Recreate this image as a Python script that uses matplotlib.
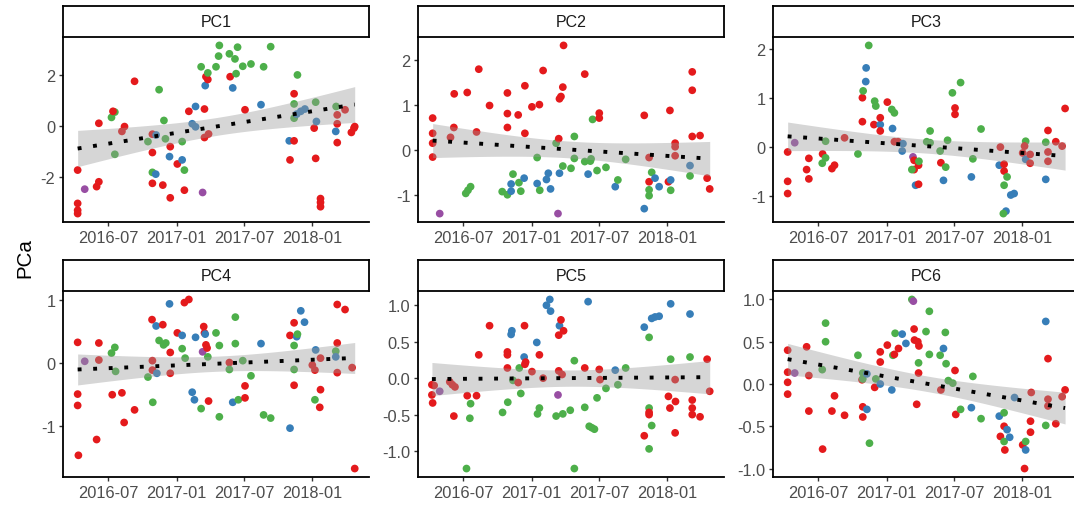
import numpy as np
import pandas as pd
import matplotlib.pyplot as plt
import matplotlib.dates as mdates

plt.rcParams['font.family'] = ['Liberation Sans', 'DejaVu Sans']
plt.rcParams['axes.unicode_minus'] = False

# Set1 colours for the four sample groups
group_colors = {'r': '#E41A1C', 'b': '#377EB8', 'g': '#4DAF4A', 'p': '#984EA3'}

# (date, score, group) per principal component
pc1 = [
    ('2016-04-10', -1.74, 'r'), ('2016-04-10', -3.05, 'r'), ('2016-04-10', -3.32, 'r'), ('2016-04-10', -3.45, 'r'),
    ('2016-04-29', -2.49, 'p'), ('2016-05-31', -2.39, 'r'), ('2016-06-06', -2.20, 'r'), ('2016-06-06', 0.10, 'r'),
    ('2016-07-10', 0.33, 'g'), ('2016-07-19', 0.54, 'g'), ('2016-07-14', 0.57, 'r'), ('2016-07-19', -1.12, 'g'),
    ('2016-08-07', -0.22, 'r'), ('2016-08-14', -0.03, 'r'), ('2016-09-10', 1.75, 'r'), ('2016-10-16', -0.62, 'g'),
    ('2016-10-28', -0.33, 'r'), ('2016-10-28', -1.05, 'r'), ('2016-10-28', -1.83, 'g'), ('2016-10-28', -2.26, 'r'),
    ('2016-11-06', -1.90, 'b'), ('2016-11-07', -0.36, 'b'), ('2016-11-15', 1.42, 'g'), ('2016-11-25', -2.33, 'r'),
    ('2016-11-28', 0.21, 'g'), ('2016-12-02', -0.51, 'g'), ('2016-12-13', -1.21, 'b'), ('2016-12-15', -2.83, 'r'),
    ('2016-12-15', -0.82, 'r'), ('2017-01-03', -1.50, 'r'), ('2017-01-16', -1.34, 'b'), ('2017-01-16', -0.62, 'g'),
    ('2017-01-22', -1.74, 'g'), ('2017-01-22', -2.53, 'r'), ('2017-02-03', 0.57, 'r'), ('2017-02-12', 0.08, 'b'),
    ('2017-02-21', 0.76, 'b'), ('2017-02-21', -0.04, 'b'), ('2017-03-08', 2.32, 'g'), ('2017-03-12', -2.62, 'p'),
    ('2017-03-17', 0.66, 'r'), ('2017-03-17', -0.46, 'r'), ('2017-03-19', 1.58, 'b'), ('2017-03-21', 1.93, 'r'),
    ('2017-03-26', 1.82, 'r'), ('2017-03-26', 2.08, 'g'), ('2017-03-28', -0.32, 'r'), ('2017-04-17', 2.32, 'g'),
    ('2017-04-24', 2.74, 'g'), ('2017-04-26', 3.16, 'g'), ('2017-05-23', 2.83, 'g'), ('2017-05-25', 1.93, 'r'),
    ('2017-06-01', 1.49, 'b'), ('2017-06-07', 2.63, 'g'), ('2017-06-10', 2.05, 'g'), ('2017-06-14', 3.09, 'g'),
    ('2017-06-28', 2.34, 'g'), ('2017-07-04', 0.63, 'r'), ('2017-07-20', 2.43, 'g'), ('2017-08-16', 0.83, 'b'),
    ('2017-08-23', 2.32, 'g'), ('2017-09-11', 3.11, 'g'), ('2017-10-31', -0.59, 'b'), ('2017-11-02', -1.34, 'r'),
    ('2017-11-13', -0.59, 'r'), ('2017-11-13', 1.26, 'r'), ('2017-11-13', 0.86, 'g'), ('2017-11-13', 0.30, 'g'),
    ('2017-11-22', 2.00, 'g'), ('2017-11-20', 0.46, 'b'), ('2017-12-01', 0.57, 'b'), ('2017-12-12', 0.66, 'b'),
    ('2018-01-06', -0.09, 'r'), ('2018-01-10', -1.28, 'r'), ('2018-01-10', 0.93, 'g'), ('2018-01-12', 0.17, 'b'),
    ('2018-01-23', -2.86, 'r'), ('2018-01-23', -3.01, 'r'), ('2018-01-23', -3.18, 'r'), ('2018-03-05', -0.22, 'b'),
    ('2018-03-06', 0.76, 'g'), ('2018-03-09', 0.43, 'r'), ('2018-03-09', 0.08, 'r'), ('2018-03-09', -0.66, 'r'),
    ('2018-03-30', 0.63, 'r'), ('2018-04-16', -0.26, 'r'), ('2018-04-23', -0.09, 'r'), ('2018-04-25', -0.03, 'r'),
]

pc2 = [
    ('2016-04-10', 0.71, 'r'), ('2016-04-10', 0.37, 'r'), ('2016-04-10', 0.15, 'r'), ('2016-04-10', -0.16, 'r'),
    ('2016-04-29', -1.42, 'p'), ('2016-05-28', 0.28, 'r'), ('2016-06-06', 0.50, 'r'), ('2016-06-07', 1.25, 'r'),
    ('2016-07-12', 1.28, 'r'), ('2016-07-08', -0.97, 'g'), ('2016-07-14', -0.90, 'g'), ('2016-07-21', -0.82, 'g'),
    ('2016-08-06', 0.40, 'r'), ('2016-08-12', 1.80, 'r'), ('2016-09-10', 0.99, 'r'), ('2016-10-14', -0.93, 'g'),
    ('2016-10-28', 1.27, 'r'), ('2016-10-28', 0.81, 'r'), ('2016-10-28', 0.50, 'r'), ('2016-10-28', -1.00, 'g'),
    ('2016-11-07', -0.92, 'b'), ('2016-11-07', -0.76, 'b'), ('2016-11-12', -0.54, 'g'), ('2016-11-26', 0.78, 'r'),
    ('2016-11-28', -0.73, 'g'), ('2016-12-03', -0.92, 'g'), ('2016-12-12', -0.63, 'b'), ('2016-12-14', 1.43, 'r'),
    ('2016-12-14', 0.37, 'r'), ('2017-01-02', 0.96, 'r'), ('2017-01-16', -0.75, 'b'), ('2017-01-16', -0.17, 'g'),
    ('2017-01-22', 1.01, 'r'), ('2017-01-23', -0.90, 'g'), ('2017-02-01', 1.77, 'r'), ('2017-02-10', -0.66, 'b'),
    ('2017-02-15', -0.52, 'b'), ('2017-02-21', -0.87, 'b'), ('2017-03-08', 0.15, 'g'), ('2017-03-13', -1.42, 'p'),
    ('2017-03-15', 0.25, 'r'), ('2017-03-17', -0.52, 'b'), ('2017-03-17', 1.14, 'r'), ('2017-03-21', 1.19, 'r'),
    ('2017-03-26', 1.40, 'r'), ('2017-03-28', 2.33, 'r'), ('2017-03-26', -0.36, 'g'), ('2017-04-17', -0.41, 'g'),
    ('2017-04-26', 0.30, 'g'), ('2017-04-26', -0.19, 'g'), ('2017-05-24', 1.69, 'r'), ('2017-05-24', -0.26, 'g'),
    ('2017-06-02', -0.54, 'b'), ('2017-06-08', -0.25, 'g'), ('2017-06-10', -0.20, 'g'), ('2017-06-14', 0.68, 'g'),
    ('2017-06-26', -0.46, 'g'), ('2017-07-02', 0.82, 'r'), ('2017-07-02', 0.71, 'r'), ('2017-07-20', -0.39, 'g'),
    ('2017-08-14', -0.82, 'b'), ('2017-08-21', -0.67, 'g'), ('2017-09-11', -0.21, 'g'), ('2017-10-31', 0.77, 'r'),
    ('2017-10-31', -1.31, 'b'), ('2017-11-13', -0.17, 'r'), ('2017-11-13', -0.71, 'r'), ('2017-11-13', -0.89, 'g'),
    ('2017-11-13', -1.02, 'g'), ('2017-11-20', -0.50, 'g'), ('2017-11-29', -0.63, 'b'), ('2017-12-10', -0.82, 'b'),
    ('2018-01-04', -0.71, 'r'), ('2018-01-08', 0.88, 'r'), ('2018-01-10', -0.67, 'b'), ('2018-01-10', -0.90, 'g'),
    ('2018-01-22', 0.15, 'r'), ('2018-01-22', 0.07, 'r'), ('2018-01-22', -0.13, 'r'), ('2018-03-03', -0.35, 'b'),
    ('2018-03-03', -0.58, 'g'), ('2018-03-09', 1.74, 'r'), ('2018-03-09', 1.33, 'r'), ('2018-03-09', 0.30, 'r'),
    ('2018-03-30', 0.32, 'r'), ('2018-04-18', -0.63, 'r'), ('2018-04-25', -0.87, 'r'),
]

pc3 = [
    ('2016-04-10', -0.10, 'r'), ('2016-04-10', -0.70, 'r'), ('2016-04-10', -0.95, 'r'), ('2016-04-29', 0.09, 'p'),
    ('2016-05-31', -0.46, 'r'), ('2016-06-06', -0.23, 'r'), ('2016-06-06', -0.65, 'r'), ('2016-07-12', -0.33, 'g'),
    ('2016-07-13', -0.14, 'r'), ('2016-07-21', 0.12, 'g'), ('2016-07-21', -0.22, 'g'), ('2016-08-07', -0.44, 'r'),
    ('2016-08-14', -0.37, 'r'), ('2016-09-10', 0.19, 'r'), ('2016-10-16', -0.14, 'g'), ('2016-10-28', 1.01, 'r'),
    ('2016-10-28', 0.52, 'r'), ('2016-10-30', 1.15, 'g'), ('2016-11-07', 1.62, 'b'), ('2016-11-06', 1.34, 'b'),
    ('2016-11-14', 2.08, 'g'), ('2016-11-28', 0.46, 'r'), ('2016-11-30', 0.94, 'g'), ('2016-12-03', 0.84, 'g'),
    ('2016-12-15', 0.46, 'b'), ('2016-12-15', 0.60, 'r'), ('2016-12-15', 0.33, 'r'), ('2017-01-03', 0.92, 'r'),
    ('2017-01-15', 0.77, 'g'), ('2017-01-22', 0.70, 'g'), ('2017-01-17', 0.38, 'b'), ('2017-01-22', 0.11, 'r'),
    ('2017-02-01', 0.11, 'r'), ('2017-02-12', -0.08, 'b'), ('2017-02-14', 0.07, 'b'), ('2017-03-13', -0.20, 'p'),
    ('2017-03-16', -0.27, 'r'), ('2017-03-16', -0.46, 'r'), ('2017-03-10', -0.46, 'g'), ('2017-03-20', -0.78, 'b'),
    ('2017-03-28', -0.37, 'r'), ('2017-03-28', -0.76, 'r'), ('2017-03-29', -0.29, 'g'), ('2017-04-19', 0.11, 'g'),
    ('2017-04-28', 0.33, 'g'), ('2017-04-28', 0.09, 'g'), ('2017-05-25', -0.08, 'g'), ('2017-05-27', -0.32, 'r'),
    ('2017-06-03', -0.68, 'b'), ('2017-06-09', -0.41, 'g'), ('2017-06-14', 0.14, 'g'), ('2017-06-27', 1.11, 'g'),
    ('2017-07-04', 0.80, 'r'), ('2017-07-04', 0.67, 'r'), ('2017-07-19', 1.32, 'g'), ('2017-08-17', -0.61, 'b'),
    ('2017-08-21', -0.24, 'g'), ('2017-09-12', 0.37, 'g'), ('2017-10-31', -0.37, 'b'), ('2017-11-03', 0.00, 'r'),
    ('2017-11-13', -0.35, 'r'), ('2017-11-13', -0.49, 'r'), ('2017-11-13', -0.78, 'g'), ('2017-11-21', -0.61, 'g'),
    ('2017-11-18', -1.31, 'b'), ('2017-11-11', -1.36, 'g'), ('2017-12-01', -0.98, 'b'), ('2017-12-10', -0.95, 'b'),
    ('2018-01-02', -0.12, 'r'), ('2018-01-10', 0.12, 'g'), ('2018-01-07', 0.02, 'r'), ('2018-01-10', -0.25, 'b'),
    ('2018-01-22', -0.15, 'r'), ('2018-01-22', -0.33, 'r'), ('2018-03-05', -0.66, 'b'), ('2018-03-05', 0.10, 'g'),
    ('2018-03-11', 0.34, 'r'), ('2018-03-11', -0.10, 'r'), ('2018-03-11', -0.29, 'r'), ('2018-04-01', 0.11, 'r'),
    ('2018-04-18', 0.02, 'r'), ('2018-04-26', 0.79, 'r'),
]

pc4 = [
    ('2016-04-10', 0.33, 'r'), ('2016-04-10', -0.49, 'r'), ('2016-04-10', -0.67, 'r'), ('2016-04-12', -1.46, 'r'),
    ('2016-04-29', 0.03, 'p'), ('2016-05-31', -1.21, 'r'), ('2016-06-06', 0.32, 'r'), ('2016-06-06', 0.05, 'r'),
    ('2016-07-10', 0.16, 'g'), ('2016-07-19', 0.25, 'g'), ('2016-07-21', -0.13, 'g'), ('2016-07-12', -0.50, 'r'),
    ('2016-08-07', -0.47, 'r'), ('2016-08-13', -0.94, 'r'), ('2016-09-10', -0.74, 'r'), ('2016-10-16', -0.22, 'g'),
    ('2016-10-27', 0.69, 'r'), ('2016-10-28', 0.04, 'r'), ('2016-10-28', -0.11, 'r'), ('2016-10-29', -0.62, 'g'),
    ('2016-11-07', 0.59, 'b'), ('2016-11-09', -0.16, 'b'), ('2016-11-15', 0.36, 'g'), ('2016-11-25', 0.61, 'r'),
    ('2016-11-27', 0.29, 'g'), ('2016-12-03', 0.32, 'g'), ('2016-12-13', 0.94, 'b'), ('2016-12-15', 0.17, 'r'),
    ('2016-12-15', -0.16, 'r'), ('2017-01-03', 0.48, 'r'), ('2017-01-16', 0.44, 'b'), ('2017-01-16', 0.23, 'g'),
    ('2017-01-22', 0.96, 'r'), ('2017-02-03', 1.01, 'r'), ('2017-01-24', 0.08, 'g'), ('2017-02-12', -0.46, 'b'),
    ('2017-02-18', -0.58, 'b'), ('2017-02-21', 0.41, 'b'), ('2017-03-08', -0.72, 'g'), ('2017-03-12', 0.18, 'p'),
    ('2017-03-15', 0.58, 'r'), ('2017-03-17', 0.48, 'r'), ('2017-03-19', 0.46, 'b'), ('2017-03-21', 0.29, 'r'),
    ('2017-03-24', 0.24, 'r'), ('2017-03-26', 0.10, 'g'), ('2017-03-28', -0.60, 'r'), ('2017-04-17', 0.48, 'g'),
    ('2017-04-26', 0.28, 'g'), ('2017-04-26', -0.85, 'g'), ('2017-05-23', 0.01, 'r'), ('2017-05-23', -0.10, 'g'),
    ('2017-06-01', -0.62, 'b'), ('2017-06-08', 0.31, 'g'), ('2017-06-08', 0.73, 'g'), ('2017-06-16', -0.58, 'g'),
    ('2017-06-28', 0.04, 'g'), ('2017-07-04', -0.36, 'r'), ('2017-07-04', -0.55, 'r'), ('2017-07-20', -0.20, 'g'),
    ('2017-08-16', 0.31, 'b'), ('2017-08-23', -0.82, 'g'), ('2017-09-11', -0.87, 'g'), ('2017-11-02', -1.03, 'b'),
    ('2017-11-02', 0.44, 'r'), ('2017-11-13', 0.64, 'r'), ('2017-11-13', -0.10, 'g'), ('2017-11-13', -0.35, 'r'),
    ('2017-11-13', 0.28, 'g'), ('2017-11-20', 0.42, 'b'), ('2017-11-22', 0.46, 'g'), ('2017-12-01', 0.83, 'b'),
    ('2017-12-11', 0.65, 'b'), ('2018-01-01', -0.03, 'r'), ('2018-01-08', -0.11, 'r'), ('2018-01-08', -0.58, 'g'),
    ('2018-01-10', 0.21, 'b'), ('2018-01-23', 0.08, 'r'), ('2018-01-23', -0.42, 'r'), ('2018-01-21', -0.70, 'r'),
    ('2018-03-05', 0.19, 'g'), ('2018-03-05', 0.10, 'b'), ('2018-03-09', 0.93, 'r'), ('2018-03-09', 0.32, 'r'),
    ('2018-03-09', -0.15, 'r'), ('2018-03-30', 0.85, 'r'), ('2018-04-18', -0.07, 'r'), ('2018-04-25', -1.67, 'r'),
]

pc5 = [
    ('2016-04-08', -0.09, 'r'), ('2016-04-08', -0.23, 'r'), ('2016-04-10', -0.34, 'r'), ('2016-04-14', -0.10, 'r'),
    ('2016-04-29', -0.18, 'p'), ('2016-05-26', -0.05, 'r'), ('2016-06-02', -0.09, 'r'), ('2016-06-09', -0.12, 'r'),
    ('2016-06-06', -0.52, 'r'), ('2016-07-12', -0.24, 'r'), ('2016-07-21', -0.35, 'g'), ('2016-07-19', -0.55, 'g'),
    ('2016-07-10', -1.24, 'g'), ('2016-08-06', -0.24, 'r'), ('2016-08-12', 0.32, 'r'), ('2016-09-10', 0.72, 'r'),
    ('2016-10-15', -0.47, 'g'), ('2016-10-28', 0.36, 'r'), ('2016-10-28', 0.32, 'r'), ('2016-10-28', 0.14, 'r'),
    ('2016-10-29', -0.33, 'g'), ('2016-11-07', 0.60, 'b'), ('2016-11-09', 0.65, 'b'), ('2016-11-12', -0.03, 'g'),
    ('2016-11-26', -0.06, 'r'), ('2016-11-29', 0.14, 'g'), ('2016-12-03', -0.21, 'g'), ('2016-12-12', 0.29, 'b'),
    ('2016-12-13', 0.72, 'r'), ('2016-12-14', 0.19, 'r'), ('2016-12-16', 0.22, 'r'), ('2017-01-02', 0.09, 'r'),
    ('2017-01-15', 0.49, 'b'), ('2017-01-17', -0.49, 'g'), ('2017-01-22', -0.41, 'g'), ('2017-01-22', 0.32, 'r'),
    ('2017-02-01', 0.00, 'r'), ('2017-02-10', 1.00, 'b'), ('2017-02-19', 1.08, 'b'), ('2017-02-21', 0.92, 'b'),
    ('2017-03-08', -0.52, 'g'), ('2017-03-13', -0.23, 'p'), ('2017-03-15', 0.59, 'r'), ('2017-03-15', 0.10, 'r'),
    ('2017-03-17', 0.72, 'b'), ('2017-03-21', 0.80, 'r'), ('2017-03-24', 0.05, 'r'), ('2017-03-26', -0.49, 'g'),
    ('2017-03-28', 0.65, 'r'), ('2017-04-15', -0.44, 'g'), ('2017-04-26', 0.24, 'g'), ('2017-04-26', -1.24, 'g'),
    ('2017-05-24', 0.14, 'r'), ('2017-05-24', -0.40, 'g'), ('2017-06-02', 1.05, 'b'), ('2017-06-05', -0.66, 'g'),
    ('2017-06-12', -0.68, 'g'), ('2017-06-19', -0.70, 'g'), ('2017-06-26', -0.27, 'g'), ('2017-07-02', 0.12, 'r'),
    ('2017-07-04', -0.02, 'r'), ('2017-07-20', -0.14, 'g'), ('2017-08-14', 0.11, 'b'), ('2017-08-21', -0.09, 'g'),
    ('2017-09-11', 0.14, 'g'), ('2017-10-31', 0.70, 'b'), ('2017-10-31', -0.79, 'r'), ('2017-11-13', 0.56, 'g'),
    ('2017-11-13', -0.41, 'g'), ('2017-11-13', -0.47, 'r'), ('2017-11-13', -0.50, 'r'), ('2017-11-13', -0.97, 'g'),
    ('2017-11-20', -0.65, 'g'), ('2017-11-20', 0.82, 'b'), ('2017-11-29', 0.84, 'b'), ('2017-12-10', 0.85, 'b'),
    ('2018-01-04', -0.25, 'r'), ('2018-01-08', -0.41, 'r'), ('2018-01-10', 0.26, 'g'), ('2018-01-10', 1.02, 'b'),
    ('2018-01-22', -0.02, 'r'), ('2018-01-23', -0.32, 'r'), ('2018-01-22', -0.75, 'r'), ('2018-03-03', 0.88, 'b'),
    ('2018-03-03', 0.29, 'g'), ('2018-03-09', -0.30, 'r'), ('2018-03-09', -0.41, 'r'), ('2018-03-09', -0.50, 'r'),
    ('2018-03-30', -0.53, 'r'), ('2018-04-18', 0.26, 'r'), ('2018-04-25', -0.18, 'r'),
]

pc6 = [
    ('2016-04-10', 0.40, 'r'), ('2016-04-10', 0.14, 'r'), ('2016-04-10', 0.02, 'r'), ('2016-04-10', -0.12, 'r'),
    ('2016-04-29', 0.13, 'p'), ('2016-05-31', 0.44, 'r'), ('2016-06-06', 0.10, 'r'), ('2016-06-06', -0.32, 'r'),
    ('2016-07-12', 0.17, 'g'), ('2016-07-13', -0.77, 'r'), ('2016-07-21', 0.72, 'g'), ('2016-07-21', 0.50, 'g'),
    ('2016-08-14', -0.14, 'r'), ('2016-08-07', -0.32, 'r'), ('2016-09-10', -0.37, 'r'), ('2016-10-16', 0.34, 'g'),
    ('2016-10-27', 0.05, 'r'), ('2016-10-29', 0.06, 'g'), ('2016-10-29', 0.13, 'g'), ('2016-10-29', -0.27, 'r'),
    ('2016-10-29', -0.39, 'r'), ('2016-11-09', -0.30, 'b'), ('2016-11-09', 0.12, 'b'), ('2016-11-16', -0.70, 'g'),
    ('2016-11-30', -0.04, 'r'), ('2016-12-03', 0.06, 'g'), ('2016-12-15', 0.00, 'b'), ('2016-12-15', 0.26, 'r'),
    ('2016-12-15', 0.38, 'r'), ('2017-01-03', 0.46, 'r'), ('2017-01-15', -0.07, 'b'), ('2017-01-18', 0.34, 'g'),
    ('2017-01-22', 0.35, 'r'), ('2017-01-24', 0.60, 'g'), ('2017-02-02', 0.42, 'r'), ('2017-02-12', 0.59, 'b'),
    ('2017-02-22', 0.48, 'b'), ('2017-03-10', 1.00, 'g'), ('2017-03-14', 0.98, 'p'), ('2017-03-16', 0.65, 'r'),
    ('2017-03-17', 0.52, 'r'), ('2017-03-23', -0.24, 'r'), ('2017-03-26', 0.50, 'r'), ('2017-03-28', 0.25, 'g'),
    ('2017-03-29', 0.45, 'r'), ('2017-03-28', 0.13, 'r'), ('2017-04-17', 0.62, 'g'), ('2017-04-26', 0.86, 'g'),
    ('2017-04-26', 0.35, 'g'), ('2017-05-25', 0.34, 'g'), ('2017-05-27', -0.07, 'r'), ('2017-06-03', 0.42, 'b'),
    ('2017-06-08', 0.61, 'g'), ('2017-06-10', 0.24, 'g'), ('2017-06-16', 0.04, 'g'), ('2017-06-28', 0.01, 'g'),
    ('2017-07-04', 0.16, 'r'), ('2017-07-06', -0.36, 'r'), ('2017-07-19', -0.30, 'g'), ('2017-08-17', -0.28, 'b'),
    ('2017-08-21', 0.09, 'g'), ('2017-09-12', -0.41, 'g'), ('2017-10-31', -0.38, 'b'), ('2017-11-03', -0.62, 'r'),
    ('2017-11-13', -0.34, 'g'), ('2017-11-13', -0.50, 'r'), ('2017-11-13', -0.68, 'g'), ('2017-11-15', -0.78, 'r'),
    ('2017-11-21', -0.54, 'b'), ('2017-11-28', -0.63, 'b'), ('2017-12-11', -0.16, 'b'), ('2018-01-02', -0.72, 'r'),
    ('2018-01-10', -0.68, 'g'), ('2018-01-10', -0.78, 'b'), ('2018-01-07', -1.00, 'r'), ('2018-01-25', -0.10, 'r'),
    ('2018-01-23', -0.44, 'r'), ('2018-01-23', -0.57, 'r'), ('2018-03-05', 0.74, 'b'), ('2018-03-05', -0.49, 'g'),
    ('2018-03-11', 0.30, 'r'), ('2018-03-11', -0.18, 'r'), ('2018-03-11', -0.26, 'r'), ('2018-04-01', -0.47, 'r'),
    ('2018-04-18', -0.15, 'r'), ('2018-04-26', -0.07, 'r'),
]

panel_names = ['PC1', 'PC2', 'PC3', 'PC4', 'PC5', 'PC6']
panel_data = [pc1, pc2, pc3, pc4, pc5, pc6]
panel_yticks = [[-2, 0, 2], [-1, 0, 1, 2], [-1, 0, 1, 2], [-1, 0, 1],
                [-1.0, -0.5, 0.0, 0.5, 1.0], [-1.0, -0.5, 0.0, 0.5, 1.0]]
panel_fmt = ['{:g}', '{:g}', '{:g}', '{:g}', '{:.1f}', '{:.1f}']
date_ticks = ['2016-07-01', '2017-01-01', '2017-07-01', '2018-01-01']


def lm_band(x, y, xs, t=1.99):
    # linear fit with 95% confidence band, like geom_smooth(method = "lm")
    n = len(x)
    slope, icpt = np.polyfit(x, y, 1)
    resid = y - (icpt + slope * x)
    s = np.sqrt(np.sum(resid ** 2) / (n - 2))
    sxx = np.sum((x - x.mean()) ** 2)
    se = s * np.sqrt(1.0 / n + (xs - x.mean()) ** 2 / sxx)
    fit = icpt + slope * xs
    return fit, fit - t * se, fit + t * se


W, H = 1074, 506
fig = plt.figure(figsize=(W / 100, H / 100), dpi=100)

col_left = [63, 418, 773]
panel_w = 306
rows = [(7, 38, 223), (261, 292, 478)]  # strip top, axes top, axes bottom

all_x = np.concatenate([mdates.date2num(pd.to_datetime([d for d, _, _ in p])) for p in panel_data])
x0, x1 = all_x.min(), all_x.max()
xpad = 0.05 * (x1 - x0)

for i, (name, pts) in enumerate(zip(panel_names, panel_data)):
    r, c = divmod(i, 3)
    st, at, ab = rows[r]
    left = col_left[c]
    ax = fig.add_axes([left / W, 1 - ab / H, panel_w / W, (ab - at) / H])
    sax = fig.add_axes([left / W, 1 - at / H, panel_w / W, (at - st) / H])

    df = pd.DataFrame(pts, columns=['date', 'value', 'group'])
    x = mdates.date2num(pd.to_datetime(df['date']))
    y = df['value'].to_numpy()

    ax.scatter(x, y, s=31, c=[group_colors[g] for g in df['group']], linewidths=0, zorder=2)

    xs = np.linspace(x.min(), x.max(), 100)
    fit, lo, hi = lm_band(x, y, xs)
    ax.fill_between(xs, lo, hi, color='#999999', alpha=0.4, linewidth=0, zorder=3)
    ax.plot(xs, fit, color='black', lw=2.8, linestyle=(0, (1, 3)), dash_capstyle='butt', zorder=4)

    ymin = min(y.min(), lo.min())
    ymax = max(y.max(), hi.max())
    ypad = 0.05 * (ymax - ymin)
    ax.set_ylim(ymin - ypad, ymax + ypad)
    ax.set_xlim(x0 - xpad, x1 + xpad)

    ax.set_yticks(panel_yticks[i])
    ax.set_yticklabels([panel_fmt[i].format(v) for v in panel_yticks[i]])
    ax.set_xticks(mdates.date2num(pd.to_datetime(date_ticks)))
    ax.xaxis.set_major_formatter(mdates.DateFormatter('%Y-%m'))

    for side in ['top', 'right']:
        ax.spines[side].set_visible(False)
    for side in ['left', 'bottom']:
        ax.spines[side].set_linewidth(1.3)
        ax.spines[side].set_color('black')
    ax.tick_params(length=3, width=1, color='#333333', labelcolor='#4D4D4D',
                   labelsize=11.8, pad=2.5)

    # facet strip
    sax.set_xticks([])
    sax.set_yticks([])
    for sp in sax.spines.values():
        sp.set_linewidth(1.3)
        sp.set_color('black')
    sax.text(0.5, 0.5, name, ha='center', va='center', fontsize=11.5, color='#1A1A1A',
             transform=sax.transAxes)

fig.text(25 / W, 1 - 258 / H, 'PCa', rotation=90, ha='center', va='center', fontsize=14.8)

fig.savefig('out.png', dpi=100)
